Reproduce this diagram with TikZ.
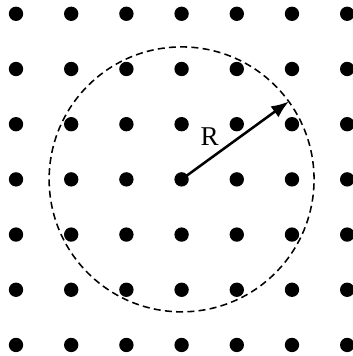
\documentclass[tikz,border=0pt]{standalone}
\usepackage{fontspec}
\setmainfont{Liberation Serif}
\usepackage{tikz}
\usetikzlibrary{arrows.meta,positioning,calc}

\begin{document}
\begin{tikzpicture}[
    dot/.style={circle, fill=black, inner sep=0pt, minimum size=0.26cm},
    ring/.style={circle, draw=black, line width=0.8pt, dash pattern=on 3.6pt off 2.2pt, minimum size=4.8cm, inner sep=0pt, outer sep=0pt},
    arrow/.style={line width=1.3pt,-{Latex[length=9pt,width=7pt]}}
]
\useasboundingbox (-3.29,-3.20) rectangle (3.10,3.25);

% Lattice of points
\foreach \i in {0,...,6}
  \foreach \j in {0,...,6}
    \node[dot] (d\i\j) at (\i-3,\j-3) {};

% Cut-off circle
\node[ring] (circ) at (d33) {};

% Radius
\draw[arrow] (d33.center) -- (circ.36);
\node[font=\fontsize{14}{16}\selectfont] (rlabel) at (0.51,0.77) {R};

\end{tikzpicture}
\end{document}
